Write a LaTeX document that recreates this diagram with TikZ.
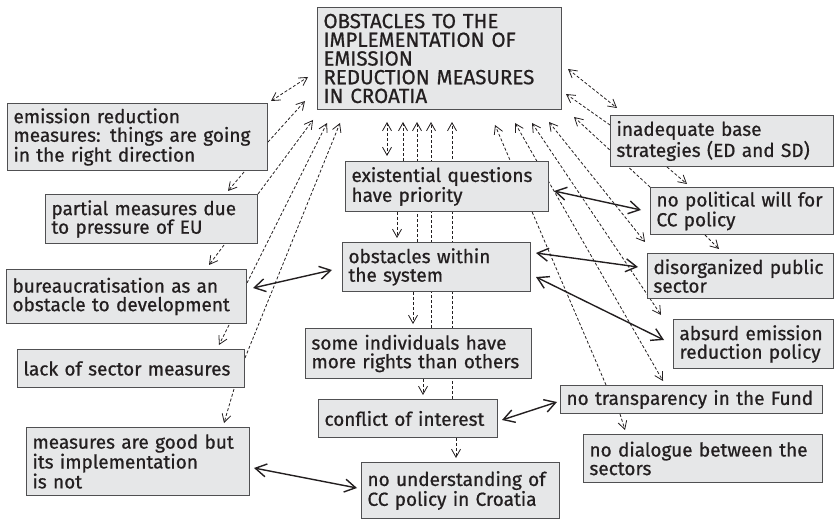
\documentclass[tikz,border=0pt]{standalone}
\usepackage{fontspec}
\setmainfont{Fira Sans}[FakeBold=0.7]
\usepackage{tikz}
\usetikzlibrary{arrows.meta, calc, backgrounds}

\definecolor{boxfill}{RGB}{230,231,232}
\definecolor{boxline}{RGB}{80,80,82}
\definecolor{ink}{RGB}{35,31,32}
\newcommand\boxfont{\fontsize{19}{18.6}\selectfont}
\newcommand\titlefont{\fontsize{20.5}{18.7}\selectfont}
\hyphenpenalty=10000
\exhyphenpenalty=10000

\begin{document}
\begin{tikzpicture}[
  x=1pt, y=-1pt,
  block/.style = {draw=boxline, fill=boxfill, line width=1pt, anchor=north west,
                  inner xsep=6pt, inner ysep=0pt, align=left, text=ink, font=\boxfont},
  tie/.style   = {ink, line width=1.4pt,
                  {Straight Barb[length=11pt,width=13pt]}-{Straight Barb[length=11pt,width=13pt]}},
  hint/.style  = {ink, line width=0.8pt, dash pattern=on 3pt off 2pt,
                  -{Straight Barb[length=8pt,width=9pt]}},
  hints/.style = {hint, {Straight Barb[length=8pt,width=9pt]}-{Straight Barb[length=8pt,width=9pt]}}
]
  \useasboundingbox (0,0) rectangle (835,521);

  % central problem
  \node[block, font=\titlefont, minimum width=244pt, minimum height=102pt, text width=232pt] (main) at (317,7)
    {OBSTACLES TO THE\\IMPLEMENTATION OF\\EMISSION\\REDUCTION MEASURES\\IN CROATIA};

  % left column
  \node[block, minimum width=260pt, minimum height=67pt, text width=248pt] (emis) at (7,103)
    {emission reduction\\measures: things are going\\in the right direction};
  \node[block, minimum width=212pt, minimum height=49pt, text width=200pt] (partial) at (45,194)
    {partial measures due\\to pressure of EU};
  \node[block, minimum width=240pt, minimum height=54pt, text width=228pt] (bureau) at (6,269)
    {bureaucratisation as an\\obstacle to development};
  \node[block, minimum width=227pt, minimum height=38pt, text width=215pt] (lack) at (17,349)
    {lack of sector measures};
  \node[block, minimum width=223pt, minimum height=68pt, text width=211pt] (good) at (26,427)
    {measures are good but\\its implementation\\is not};

  % middle column
  \node[block, minimum width=203pt, minimum height=50pt, text width=191pt] (exist) at (345,161)
    {existential questions\\have priority};
  \node[block, minimum width=188pt, minimum height=49pt, text width=176pt] (within) at (342,242)
    {obstacles within\\the system};
  \node[block, minimum width=226pt, minimum height=50pt, text width=214pt] (rights) at (305,328)
    {some individuals have\\more rights than others};
  \node[block, minimum width=179pt, minimum height=38pt, text width=167pt] (conflict) at (318,399)
    {conflict of interest};
  \node[block, minimum width=198pt, minimum height=56pt, text width=186pt] (underst) at (361,462)
    {no understanding of\\CC policy in Croatia};

  % right column
  \node[block, minimum width=223pt, minimum height=51pt, text width=211pt] (inadeq) at (610,115)
    {inadequate base\\strategies (ED and SD)};
  \node[block, minimum width=183pt, minimum height=47pt, text width=171pt] (polit) at (650,187)
    {no political will for\\CC policy};
  \node[block, minimum width=186pt, minimum height=45pt, text width=174pt] (disorg) at (647,253)
    {disorganized public\\sector};
  \node[block, minimum width=160pt, minimum height=49pt, text width=148pt] (absurd) at (673,319)
    {absurd emission\\reduction policy};
  \node[block, minimum width=262pt, minimum height=28pt, text width=250pt] (transp) at (560,385)
    {no transparency in the Fund};
  \node[block, minimum width=239pt, minimum height=48pt, text width=227pt] (dialog) at (583,434)
    {no dialogue between the\\sectors};

  \begin{scope}[on background layer]
    % left side into the centre
    \draw[hints] ($(emis.north east)+(3,-2)$) -- ($(main.south west)+(-9,-33)$);
    \draw[hint] ($(emis.north east)+(0,39)$) -- ($(main.south west)+(-12,-9)$);
    \draw[hint] (partial.north east) -- ($(main.south west)+(-4,10)$);
    \draw[hint] ($(bureau.north east)+(0,14)$) -- ($(main.south west)+(10,13)$);
    \draw[hint] ($(lack.north east)+(0,9)$) -- ($(main.south west)+(23,13)$);
    \draw[hint] ($(emis.south east)+(-24,1)$) -- ($(partial.north east)+(-30,-3)$);
    \draw[hint] ($(partial.south east)+(-34,1)$) -- ($(bureau.north east)+(-38,-4)$);
    \draw[hint] ($(bureau.south east)+(-18,1)$) -- ($(lack.north east)+(-26,-4)$);
    \draw[hint] ($(lack.south east)+(-11,1)$) -- ($(good.north east)+(-26,-4)$);

    % middle stack
    \draw[hints] ($(main.south west)+(70,12)$) -- ($(exist.north west)+(42,-5)$);
    \draw[hint] ($(exist.north west)+(58,0)$) -- ($(main.south west)+(86,12)$);
    \draw[hint] ($(within.north west)+(75,0)$) -- ($(main.south west)+(100,12)$);
    \draw[hint] ($(rights.north west)+(126,0)$) -- ($(main.south west)+(114,12)$);
    \draw[hint] ($(conflict.north west)+(134,0)$) -- ($(main.south west)+(135,12)$);
    \draw[hint] ($(exist.south west)+(52,0)$) -- ($(within.north west)+(55,-4)$);
    \draw[hint] ($(within.south west)+(71,0)$) -- ($(rights.north west)+(108,-4)$);
    \draw[hint] ($(rights.south west)+(118,0)$) -- ($(conflict.north west)+(105,-4)$);
    \draw[hint] ($(conflict.south west)+(138,0)$) -- ($(underst.north west)+(95,-4)$);

    % right side
    \draw[hints] ($(main.north east)+(6,62)$) -- ($(inadeq.north west)+(7,-7)$);
    \draw[hint] ($(inadeq.north west)+(0,10)$) -- ($(main.south east)+(4,-16)$);
    \draw[hint] (polit.north west) -- ($(main.south east)+(12,7)$);
    \draw[hint] ($(inadeq.south west)+(57,0)$) -- ($(polit.north west)+(37,-3)$);
    \draw[hint] ($(polit.south west)+(55,0)$) -- ($(disorg.north west)+(72,-4)$);
    \draw[hints] ($(main.south east)+(-13,12)$) -- ($(disorg.north west)+(-2,-11)$);
    \draw[hints] ($(main.south east)+(-30,13)$) -- ($(absurd.north west)+(-12,-4)$);
    \draw[hints] ($(main.south east)+(-47,13)$) -- ($(transp.north west)+(103,-4)$);
    \draw[hint] ($(transp.north west)+(46,0)$) -- ($(main.south east)+(-67,15)$);
    \draw[hint] ($(transp.south west)+(60,0)$) -- ($(dialog.north west)+(42,-4)$);
  \end{scope}

  % two-way links
  \draw[tie] ($(bureau.north east)+(6,19)$) -- ($(within.north west)+(-10,28)$);
  \draw[tie] ($(exist.north east)+(5,30)$) -- ($(polit.north west)+(-9,23)$);
  \draw[tie] ($(within.north east)+(5,11)$) -- ($(disorg.north west)+(-9,14)$);
  \draw[tie] ($(within.north east)+(5,35)$) -- ($(absurd.north west)+(-9,21)$);
  \draw[tie] ($(conflict.north east)+(4,21)$) -- ($(transp.north west)+(-3,17)$);
  \draw[tie] ($(good.north east)+(4,41)$) -- ($(underst.north west)+(-4,26)$);
\end{tikzpicture}
\end{document}
